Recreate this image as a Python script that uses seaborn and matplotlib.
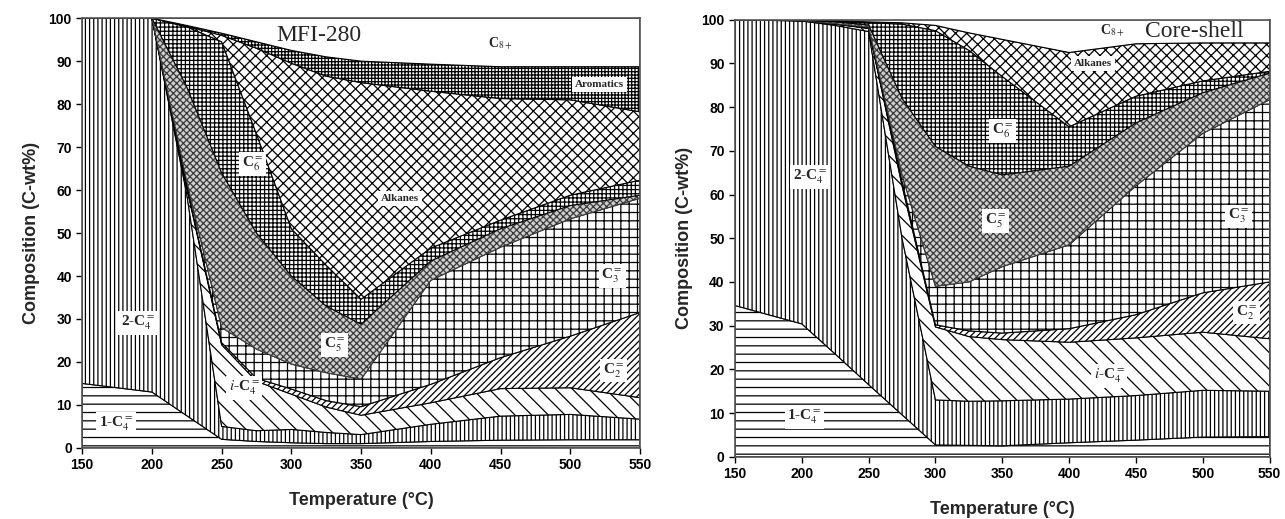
import numpy as np
import matplotlib
matplotlib.use("Agg")
import matplotlib.pyplot as plt
import seaborn as sns

# ---------------- data ----------------
temperature = [150, 200, 225, 250, 275, 300, 325, 350, 400, 450, 500, 550]
species = ["1-C4=", "2-C4=", "i-C4=", "C2=", "C3=", "C5=", "C6=", "Alkanes", "Aromatics", "C8+"]

# MFI-280 (C-wt%)
mfi_1c4 = [15, 13, 7.5, 2, 1.5, 1.2, 1.0, 1.0, 1.5, 1.8, 1.9, 1.9]
mfi_2c4 = [85, 87, 51.5, 3, 2.5, 3.1, 2.6, 2.1, 4.0, 5.6, 5.9, 4.8]
mfi_ic4 = [0, 0, 1.5, 19, 11.5, 8.2, 5.9, 4.5, 5.0, 6.4, 6.2, 5.0]
mfi_c2 = [0, 0, 0.5, 0.5, 0.7, 1.2, 1.5, 2.0, 4.3, 7.2, 12.0, 19.8]
mfi_c3 = [0, 0, 1.0, 3.5, 6.8, 5.8, 6.5, 6.4, 24.2, 25.7, 27.3, 26.6]
mfi_c5 = [0, 0, 22, 36, 27, 20.5, 15.5, 12.8, 4.5, 4.3, 3.1, 0.7]
mfi_c6 = [0, 0, 14, 30.5, 23, 11, 9.5, 5.8, 3.0, 2.0, 2.4, 3.5]
mfi_alkanes = [0, 0, 0.1, 1.5, 20, 38.5, 44, 50.4, 36.5, 28.3, 22.2, 15.9]
mfi_aromatics = [0, 0, 0.2, 0.5, 1.5, 3, 4.5, 5, 6.3, 7.4, 7.7, 10.5]
mfi_c8 = [0, 0, 1.7, 3.5, 5.5, 7.5, 9, 10, 10.7, 11.3, 11.3, 11.3]

# Core-shell (C-wt%)
cs_1c4 = [34.6, 30.4, 23.5, 16.5, 9.6, 2.7, 2.6, 2.5, 3.2, 3.8, 4.5, 4.6]
cs_2c4 = [65.4, 69.3, 75.2, 80.8, 40.4, 10.3, 10.1, 10.3, 10.0, 10.2, 10.7, 10.4]
cs_ic4 = [0, 0.1, 0.3, 0.7, 12, 16.7, 14.8, 14, 13, 13.2, 13.3, 12]
cs_c2 = [0, 0, 0, 0.1, 1, 0.5, 1.3, 1.5, 3.1, 5.3, 9, 13]
cs_c3 = [0, 0, 0.1, 0.2, 1.5, 8.8, 11.2, 15.2, 19.2, 29.5, 36.5, 41.7]
cs_c5 = [0, 0.1, 0.4, 0.5, 17.5, 32, 26.5, 21, 18, 14.4, 9.3, 6.1]
cs_c6 = [0, 0, 0.2, 0.5, 17, 26.5, 26.5, 22.5, 9, 6.1, 2.7, 0.4]
cs_alkanes = [0, 0.1, 0.1, 0.2, 0.3, 1.2, 4, 8.5, 17, 12, 8.7, 6.5]
cs_aromatics = [0, 0, 0, 0, 0, 0, 0, 0, 0, 0, 0, 0]
cs_c8 = [0, 0, 0.2, 0.5, 0.7, 1.3, 3, 4.5, 7.5, 5.5, 5.3, 5.3]

x_ticks = [150, 200, 250, 300, 350, 400, 450, 500, 550]
y_ticks = [0, 10, 20, 30, 40, 50, 60, 70, 80, 90, 100]

# ---------------- style ----------------
sns.set_theme(style="ticks")
plt.rcParams["font.family"] = ["Liberation Sans", "DejaVu Sans"]
plt.rcParams["mathtext.fontset"] = "stix"
plt.rcParams["hatch.linewidth"] = 0.9

styles = {
    "1-C4=": dict(fc="white", hatch="--", ec="black"),
    "2-C4=": dict(fc="white", hatch="||||", ec="black"),
    "i-C4=": dict(fc="white", hatch="\\\\", ec="black"),
    "C2=": dict(fc="white", hatch="/////", ec="black"),
    "C3=": dict(fc="white", hatch="++", ec="black"),
    "C5=": dict(fc="#cfcfcf", hatch="xxxxx", ec="#3a3a3a"),
    "C6=": dict(fc="white", hatch="++++", ec="black"),
    "Alkanes": dict(fc="white", hatch="xxx", ec="black"),
    "Aromatics": dict(fc="white", hatch="+++++", ec="black"),
    "C8+": dict(fc="white", hatch="", ec="black"),
}

fig = plt.figure(figsize=(12.85, 5.19), dpi=100)
ax1 = fig.add_axes([0.064, 0.137, 0.434, 0.828])
ax2 = fig.add_axes([0.572, 0.12, 0.416, 0.842])

def draw(ax, series):
    x = np.array(temperature, dtype=float)
    base = np.zeros_like(x)
    for name, vals in zip(species, series):
        v = np.array(vals, dtype=float)
        top = base + v
        st = styles[name]
        if np.any(v > 0):
            ax.fill_between(x, base, top, facecolor=st["fc"], hatch=st["hatch"],
                            edgecolor=st["ec"], linewidth=0.8)
        base = top
    ax.set_xlim(150, 550)
    ax.set_ylim(0, 100)
    ax.set_xticks(x_ticks)
    ax.set_yticks(y_ticks)
    ax.tick_params(axis="both", direction="out", length=4, width=1, labelsize=10,
                   colors="black")
    for lab in ax.get_xticklabels() + ax.get_yticklabels():
        lab.set_fontweight("bold")
    for s in ax.spines.values():
        s.set_color("#555555")
        s.set_linewidth(1.2)
        s.set_visible(True)
    ax.set_xlabel("Temperature (°C)", fontsize=13, fontweight="bold", labelpad=14)
    ax.set_ylabel("Composition (C-wt%)", fontsize=13, fontweight="bold", labelpad=6)

draw(ax1, [mfi_1c4, mfi_2c4, mfi_ic4, mfi_c2, mfi_c3, mfi_c5, mfi_c6,
           mfi_alkanes, mfi_aromatics, mfi_c8])
draw(ax2, [cs_1c4, cs_2c4, cs_ic4, cs_c2, cs_c3, cs_c5, cs_c6,
           cs_alkanes, cs_aromatics, cs_c8])

serif = ["Liberation Serif", "DejaVu Serif"]
box = dict(facecolor="white", edgecolor="none", pad=2)

def lab(ax, x, y, s, size=11, bold=True, bg=True):
    ax.text(x, y, s, fontsize=size, family=serif, fontweight="bold" if bold else "normal",
            ha="center", va="center", bbox=box if bg else None, zorder=5)

# MFI-280 labels
lab(ax1, 320, 96, "MFI-280", size=17, bold=False, bg=False)
lab(ax1, 450, 94, r"C$_{8+}$", size=10, bg=False)
lab(ax1, 521, 84.5, "Aromatics", size=8)
lab(ax1, 378, 58, "Alkanes", size=8)
lab(ax1, 272, 66, r"C$_{6}^{=}$")
lab(ax1, 331, 24, r"C$_{5}^{=}$")
lab(ax1, 530, 40, r"C$_{3}^{=}$")
lab(ax1, 531, 18, r"C$_{2}^{=}$")
lab(ax1, 266, 14, r"$i$-C$_{4}^{=}$")
lab(ax1, 190, 29, r"2-C$_{4}^{=}$")
lab(ax1, 174, 5.5, r"1-C$_{4}^{=}$")

# Core-shell labels
lab(ax2, 494, 97.2, "Core-shell", size=17, bold=False, bg=False)
lab(ax2, 432, 97.5, r"C$_{8+}$", size=10, bg=False)
lab(ax2, 418, 90, "Alkanes", size=8)
lab(ax2, 350, 74.5, r"C$_{6}^{=}$")
lab(ax2, 345, 54, r"C$_{5}^{=}$")
lab(ax2, 527, 55, r"C$_{3}^{=}$")
lab(ax2, 533, 33, r"C$_{2}^{=}$")
lab(ax2, 430, 18.5, r"$i$-C$_{4}^{=}$")
lab(ax2, 206, 64, r"2-C$_{4}^{=}$")
lab(ax2, 202, 9, r"1-C$_{4}^{=}$")

fig.savefig("out.png", dpi=100)
